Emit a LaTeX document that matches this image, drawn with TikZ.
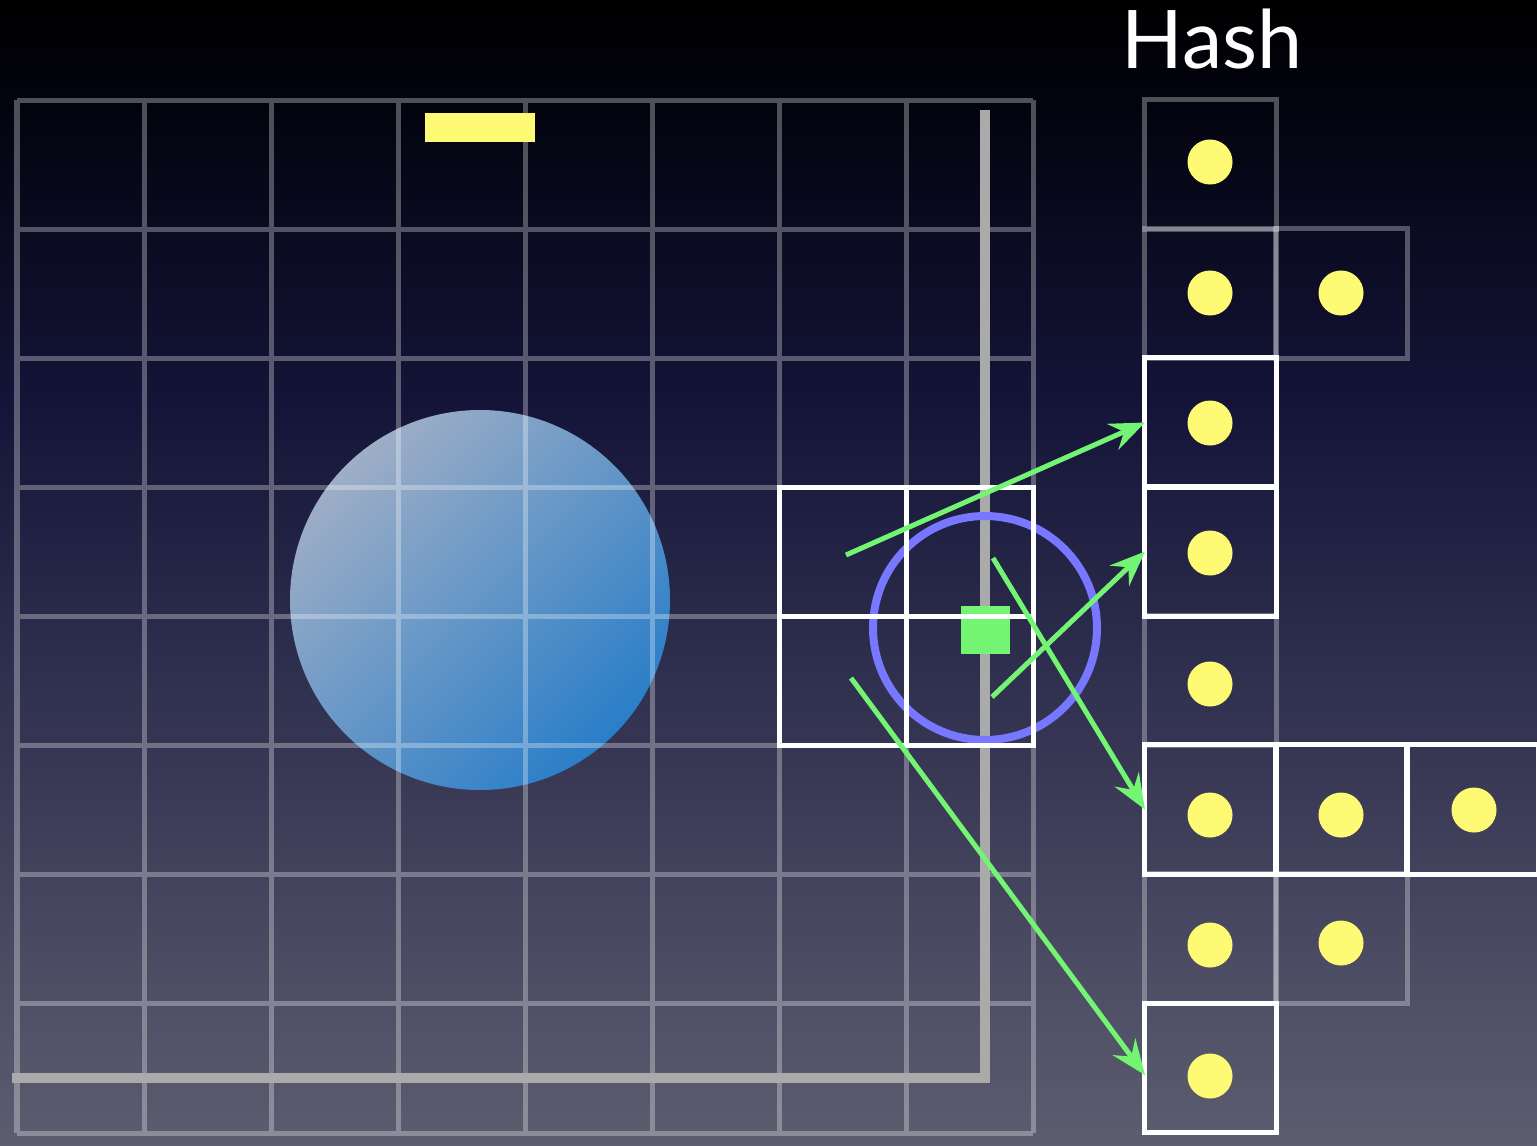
\documentclass[tikz,border=0pt]{standalone}
\usepackage{fontspec}
\setmainfont{Lato}
\usetikzlibrary{arrows.meta}

\definecolor{bgbot}{RGB}{93,93,112}
\definecolor{bgmid}{RGB}{46,46,78}
\definecolor{bgdark}{RGB}{20,20,56}
\definecolor{bgdeep}{RGB}{3,3,15}
\definecolor{dotyellow}{RGB}{255,250,115}
\definecolor{probegreen}{RGB}{115,245,115}
\definecolor{ringblue}{RGB}{119,119,255}
\definecolor{wallgray}{RGB}{170,170,170}
\definecolor{blobtop}{RGB}{158,174,198}
\definecolor{blobbot}{RGB}{42,126,200}

\pgfdeclareverticalshading{nightsky}{100bp}{color(0bp)=(bgbot); color(25bp)=(bgbot);
  color(46bp)=(bgmid); color(57.5bp)=(bgdark); color(70.5bp)=(bgdeep);
  color(75bp)=(black); color(100bp)=(black)}

\tikzset{
  gridline/.style={draw=white, opacity=0.3, line width=0.5mm},
  hcell/.style={draw, line width=0.5mm, minimum width=1.31cm, minimum height=1.29cm,
    inner sep=0pt, outer sep=0pt},
  usedcell/.style={hcell, draw=white},
  emptycell/.style={hcell, draw=white, draw opacity=0.3},
  dot/.style={circle, fill=dotyellow, minimum size=0.45cm, inner sep=0pt},
  probe/.style={draw=probegreen, line width=0.5mm, -{Stealth[length=10pt,width=8pt,inset=3.5pt]}},
}

\begin{document}
\begin{tikzpicture}[x=0.01cm,y=-0.01cm]
\useasboundingbox (0,0) rectangle (1537,1145);
\shade[shading=nightsky] (0,0) rectangle (1537,1145);

% object in the scene
\shade[top color=blobtop, bottom color=blobbot, shading angle=45] (480,600) circle (190);

% uniform grid
\draw[gridline] (17,100) -- (17,1133) (144,100) -- (144,1133) (271,100) -- (271,1133)
  (398,100) -- (398,1133) (525,100) -- (525,1133) (652,100) -- (652,1133)
  (779,100) -- (779,1133) (906,100) -- (906,1133) (1033,100) -- (1033,1133)
  (17,100) -- (1033,100) (17,229) -- (1033,229) (17,358) -- (1033,358)
  (17,487) -- (1033,487) (17,616) -- (1033,616) (17,745) -- (1033,745)
  (17,874) -- (1033,874) (17,1003) -- (1033,1003) (17,1133) -- (1033,1133);

\fill[dotyellow] (425,113) rectangle (535,142);
\draw[wallgray, line width=1mm] (985,110) |- (12,1078);

\fill[probegreen] (961,606) rectangle (1010,654);
\draw[ringblue, line width=0.8mm] (985,628) circle (112);

% cells touched by the query
\draw[white, line width=0.5mm] (779,487) rectangle (1033,745)
  (906,487) -- (906,745) (779,616) -- (1033,616);

% hash buckets
\node[emptycell] (h0) at (1210.5,164.5) {};
\node[emptycell] (h1) at (1210.5,293.5) {};
\node[emptycell] (h1b) at (1341.5,293.5) {};
\node[emptycell] (h4) at (1210.5,680.5) {};
\node[emptycell] (h6) at (1210.5,938.5) {};
\node[emptycell] (h6b) at (1341.5,938.5) {};
\node[usedcell] (h2) at (1210.5,422.5) {};
\node[usedcell] (h3) at (1210.5,551.5) {};
\node[usedcell] (h5) at (1210.5,809.5) {};
\node[usedcell] (h5b) at (1341.5,809.5) {};
\node[usedcell] (h5c) at (1472.5,809.5) {};
\node[usedcell] (h7) at (1210.5,1068) {};

\node[dot] (d0) at (1210,162) {};
\node[dot] (d1) at (1210,293) {};
\node[dot] (d1b) at (1341,293) {};
\node[dot] (d2) at (1210,423) {};
\node[dot] (d3) at (1210,553) {};
\node[dot] (d4) at (1210,684) {};
\node[dot] (d5) at (1210,815) {};
\node[dot] (d5b) at (1341,815) {};
\node[dot] (d5c) at (1474,810) {};
\node[dot] (d6) at (1210,945) {};
\node[dot] (d6b) at (1341,943) {};
\node[dot] (d7) at (1210,1076) {};

\node[text=white, font=\fontsize{23}{23}\selectfont, anchor=base, inner sep=0pt] (title) at (1212,68) {Hash};

% lookups
\coordinate (q1) at (846,555);
\coordinate (q2) at (992,697);
\coordinate (q3) at (993,558);
\coordinate (q4) at (851,678);
\draw[probe] (q1) -- (h2.west);
\draw[probe] (q2) -- (h3.west);
\draw[probe] (q3) -- (h5.west);
\draw[probe] (q4) -- ([yshift=-0.07cm]h7.west);

\end{tikzpicture}
\end{document}
